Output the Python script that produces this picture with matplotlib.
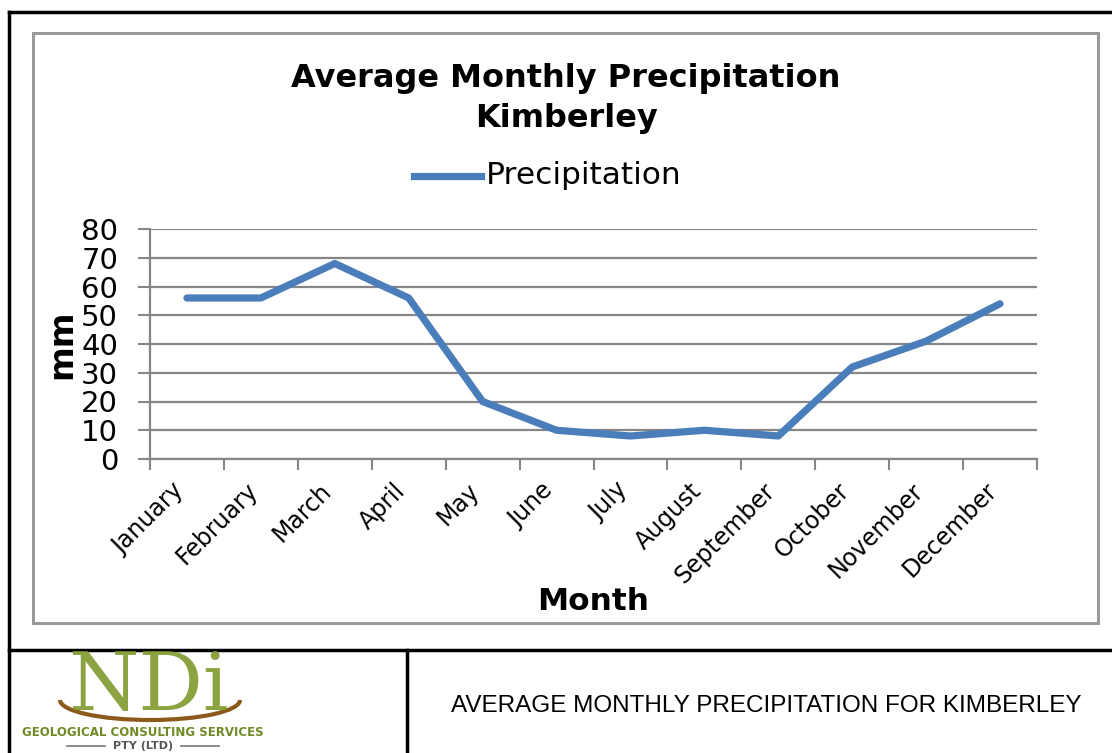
import matplotlib.pyplot as plt
import matplotlib.transforms as mtransforms
from matplotlib.patches import Rectangle, Arc
from matplotlib.lines import Line2D

# Datos
meses = ["January", "February", "March", "April", "May", "June", "July",
         "August", "September", "October", "November", "December"]
precipitacion = [56, 56, 68, 56, 20, 10, 8, 10, 8, 32, 41, 54]
yticks = [0, 10, 20, 30, 40, 50, 60, 70, 80]

W, H = 1112, 753

def fx(x):
    return x / W

def fy(y):
    return 1 - y / H

fig = plt.figure(figsize=(W / 100, H / 100), dpi=100)
plt.rcParams['font.family'] = ['DejaVu Sans']

# Marco del documento
negro = dict(color="black", lw=2.5, transform=fig.transFigure)
fig.add_artist(Line2D([fx(9), 1], [fy(12), fy(12)], **negro))
fig.add_artist(Line2D([fx(9), fx(9)], [fy(12), 0], **negro))
fig.add_artist(Line2D([fx(9), 1], [fy(650), fy(650)], **negro))
fig.add_artist(Line2D([fx(407), fx(407)], [fy(650), 0], **negro))

# Borde del área del gráfico
fig.add_artist(Rectangle((fx(33), fy(623)), fx(1098) - fx(33), fy(33) - fy(623),
                         fill=False, ec="#9a9a9a", lw=2.2, transform=fig.transFigure))

# Ejes
ax = fig.add_axes([fx(150), fy(459), fx(1037) - fx(150), fy(229) - fy(459)])
x = list(range(len(meses)))
ax.plot(x, precipitacion, color="#4a7ebb", lw=5.2, solid_capstyle="round",
        solid_joinstyle="round", zorder=3)
ax.set_xlim(-0.5, len(meses) - 0.5)
ax.set_ylim(0, 80)
ax.set_yticks(yticks)
ax.set_yticklabels([str(v) for v in yticks], fontsize=21)
ax.set_xticks([i - 0.5 for i in range(len(meses) + 1)], minor=False)
ax.set_xticklabels([])
ax.set_xticks(x, minor=True)
ax.set_xticklabels(meses, minor=True, rotation=45, ha="right", va="center",
                   rotation_mode="anchor", fontsize=17)
ax.tick_params(axis="x", which="minor", length=0, pad=20)
ax.tick_params(axis="x", which="major", length=8, width=1.5, color="#868686")
ax.tick_params(axis="y", length=9, width=1.5, color="#868686", pad=14)
ax.grid(axis="y", color="#868686", lw=1.6)
ax.set_axisbelow(True)
for s in ["top", "right"]:
    ax.spines[s].set_visible(False)
for s in ["left", "bottom"]:
    ax.spines[s].set_color("#868686")
    ax.spines[s].set_linewidth(1.6)

# Desplazar las etiquetas de los meses un poco a la izquierda
desplazo = mtransforms.ScaledTranslation(-7 / 100, 0, fig.dpi_scale_trans)
for lbl in ax.get_xticklabels(minor=True):
    lbl.set_transform(lbl.get_transform() + desplazo)

# Títulos
fig.text(fx(566), fy(79), "Average Monthly Precipitation", ha="center", va="center",
         fontsize=23, fontweight="bold")
fig.text(fx(566), fy(119), "Kimberley", ha="center", va="center",
         fontsize=23, fontweight="bold")
fig.text(fx(62), fy(344), "mm", ha="center", va="center", rotation=90,
         fontsize=24, fontweight="bold")
fig.text(fx(593), fy(601), "Month", ha="center", va="center",
         fontsize=22.5, fontweight="bold")

# Leyenda
fig.add_artist(Line2D([fx(414), fx(481)], [fy(176), fy(176)], color="#4a7ebb",
                      lw=5.2, transform=fig.transFigure))
fig.text(fx(486), fy(176), "Precipitation", ha="left", va="center", fontsize=22.5)

# Logo (aproximado con texto)
verde = "#7f9a2c"
fig.text(fx(148), fy(688), "NDi", ha="center", va="center", fontsize=58,
         family="DejaVu Serif", color=verde, alpha=0.9)
fig.add_artist(Arc((fx(150), fy(700)), fx(240) - fx(60), fy(680) - fy(720),
                   theta1=180, theta2=360, color="#8b5a1a", lw=3,
                   transform=fig.transFigure))
fig.text(fx(143), fy(733), "GEOLOGICAL CONSULTING SERVICES", ha="center",
         va="center", fontsize=8.5, fontweight="bold", color="#6f8a25")
fig.text(fx(143), fy(746), "PTY (LTD)", ha="center", va="center",
         fontsize=8, fontweight="bold", color="#555555")
gris = dict(color="#777777", lw=1.2, transform=fig.transFigure)
fig.add_artist(Line2D([fx(67), fx(105)], [fy(746), fy(746)], **gris))
fig.add_artist(Line2D([fx(181), fx(219)], [fy(746), fy(746)], **gris))

# Pie de figura
fig.text(fx(766), fy(706), "AVERAGE MONTHLY PRECIPITATION FOR KIMBERLEY",
         ha="center", va="center", fontsize=17.5, family="Liberation Sans")

fig.savefig("out.png", dpi=100)
